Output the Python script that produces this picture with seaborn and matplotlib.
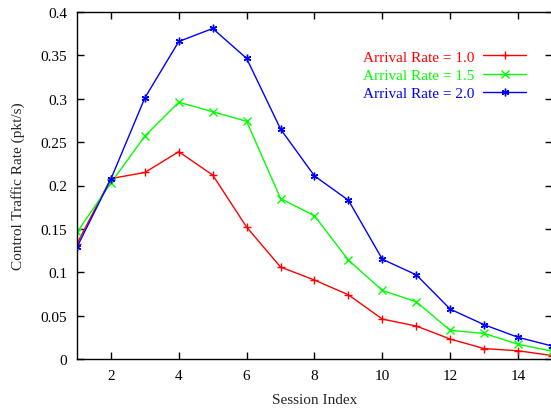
import matplotlib
matplotlib.use("Agg")
import matplotlib.pyplot as plt
import seaborn as sns
import pandas as pd
import numpy as np

sessions = list(range(1, 16))
rate_1_0 = [0.133, 0.208, 0.215, 0.239, 0.212, 0.152, 0.106, 0.091, 0.074, 0.046, 0.038, 0.023, 0.012, 0.0095, 0.004]
rate_1_5 = [0.146, 0.203, 0.257, 0.296, 0.285, 0.274, 0.185, 0.165, 0.114, 0.079, 0.066, 0.033, 0.0295, 0.017, 0.009]
rate_2_0 = [0.129, 0.2075, 0.301, 0.366, 0.381, 0.3465, 0.265, 0.211, 0.183, 0.115, 0.097, 0.0575, 0.0395, 0.025, 0.015]
labels = ["Arrival Rate = 1.0", "Arrival Rate = 1.5", "Arrival Rate = 2.0"]
colors = ["#ff0000", "#00ff00", "#0000ff"]
markers = ["+", "x", (6, 2, 0)]
y_ticks = [0, 0.05, 0.1, 0.15, 0.2, 0.25, 0.3, 0.35, 0.4]
y_tick_labels = ["0", "0.05", "0.1", "0.15", "0.2", "0.25", "0.3", "0.35", "0.4"]
x_ticks = [2, 4, 6, 8, 10, 12, 14]

sns.set_style("ticks")
plt.rcParams["font.family"] = ["Liberation Serif", "DejaVu Serif"]

fig = plt.figure(figsize=(5.51, 4.10), dpi=100)
W, H = 551, 410
left, right, top, bottom = 77, 552, 13, 360
ax = fig.add_axes([left / W, 1 - bottom / H, (right - left) / W, (bottom - top) / H])

series = [rate_1_0, rate_1_5, rate_2_0]
for vals, lab, col, mk in zip(series, labels, colors, markers):
    df = pd.DataFrame({"Session": sessions, "Rate": vals})
    sns.lineplot(data=df, x="Session", y="Rate", ax=ax, color=col, marker=mk,
                 markersize=5.5, markeredgewidth=1.0, linewidth=1.0, label=lab,
                 markeredgecolor=col, markerfacecolor=col)

ax.set_xlim(1, 15)
ax.set_ylim(0, 0.4)
ax.set_xticks(x_ticks)
ax.set_yticks(y_ticks)
ax.set_yticklabels(y_tick_labels)
ax.tick_params(direction="in", length=5, width=1, top=True, right=True,
               labelsize=11, colors="black", pad=7)
for s in ax.spines.values():
    s.set_linewidth(1.0)
    s.set_color("black")
    s.set_visible(True)

ax.set_xlabel("Session Index", fontsize=11, labelpad=8)
ax.set_ylabel("Control Traffic Rate (pkt/s)", fontsize=11, labelpad=11)

leg = ax.legend(loc="upper right", bbox_to_anchor=(532 / W, 1 - 45 / H),
                bbox_transform=fig.transFigure, frameon=False, markerfirst=False,
                labelcolor="linecolor", fontsize=11, handlelength=2.8,
                handletextpad=0.6, labelspacing=0.3, borderaxespad=0)

fig.savefig("out.png", dpi=100)
